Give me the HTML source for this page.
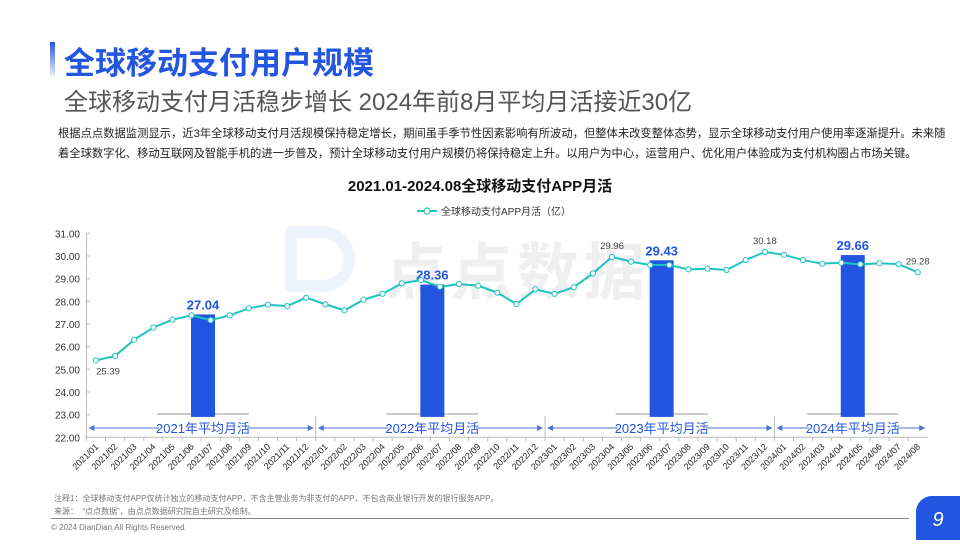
<!DOCTYPE html>
<html><head><meta charset="utf-8">
<style>
body{margin:0;width:960px;height:540px;overflow:hidden;background:#fff;font-family:"Liberation Sans","Noto Sans CJK SC",sans-serif;position:relative}
.abs{position:absolute;white-space:nowrap}
</style></head><body>
<div class="abs" style="left:50px;top:42px;width:5px;height:34px;background:linear-gradient(#2356e0,#e8eefc)"></div>
<div class="abs" style="left:64px;top:38px;font-size:31px;font-weight:bold;color:#2356e0">全球移动支付用户规模</div>
<div class="abs" style="left:64px;top:82px;font-size:24px;color:#555">全球移动支付月活稳步增长 2024年前8月平均月活接近30亿</div>
<div class="abs" style="left:58px;top:124px;font-size:11.3px;line-height:20px;color:#222">根据点点数据监测显示，近3年全球移动支付月活规模保持稳定增长，期间虽手季节性因素影响有所波动，但整体未改变整体态势，显示全球移动支付用户使用率逐渐提升。未来随<br>着全球数字化、移动互联网及智能手机的进一步普及，预计全球移动支付用户规模仍将保持稳定上升。以用户为中心，运营用户、优化用户体验成为支付机构圈占市场关键。</div>
<div class="abs" style="left:385px;top:222px;font-size:62px;font-weight:bold;color:#efefef;letter-spacing:4px">点点数据</div>
<div class="abs" style="left:285px;top:226px;width:70px;height:66px;border-radius:8px 40px 40px 8px;border:12px solid #eef2fc;box-sizing:border-box"></div>
<svg id="chart" class="abs" style="left:0;top:0" width="960" height="540"></svg>
<div class="abs" style="left:54px;top:492px;font-size:8px;line-height:13px;color:#777">注释1：全球移动支付APP仅统计独立的移动支付APP，不含主营业务为非支付的APP，不包含商业银行开发的银行服务APP。<br>来源：&nbsp;&nbsp;“点点数据”，由点点数据研究院自主研究及绘制。</div>
<div class="abs" style="left:51px;top:518px;width:858px;height:1px;background:#888"></div>
<div class="abs" style="left:51px;top:523px;font-size:8px;color:#777">© 2024 DianDian.All Rights Reserved.</div>
<div class="abs" style="left:916px;top:496px;width:44px;height:44px;background:#2356e0;border-top-left-radius:16px;color:#fff;font-size:20px;font-style:italic;text-align:center;line-height:48px">9</div>
<script>
const months=[];for(let y=2021;y<=2024;y++)for(let m=1;m<=12;m++){if(y==2024&&m>8)break;months.push(y+'/'+String(m).padStart(2,'0'));}
const values=[25.39,25.59,26.31,26.84,27.19,27.38,27.17,27.38,27.69,27.85,27.79,28.16,27.87,27.6,28.07,28.33,28.79,28.94,28.64,28.76,28.69,28.38,27.88,28.53,28.33,28.62,29.23,29.96,29.75,29.6,29.6,29.41,29.44,29.38,29.82,30.18,30.05,29.82,29.66,29.7,29.63,29.68,29.64,29.28];
const years=['2021','2022','2023','2024'];
const yearAvg=[27.04,28.36,29.43,29.66];
const yearStart=[0,12,24,36];
const yearCount=[12,12,12,8];
const pointLabels={0:'25.39',27:'29.96',35:'30.18',43:'29.28'};
const yTicks=[22,23,24,25,26,27,28,29,30,31];
const svg=document.getElementById('chart');const NS='http://www.w3.org/2000/svg';
const x0=96,dx=19.11,yTop=233.3,yBot=437.3,yMin=22,yMax=31;
const X=i=>x0+i*dx, Y=v=>yBot-(v-yMin)/(yMax-yMin)*(yBot-yTop);
function el(t,a,txt){const e=document.createElementNS(NS,t);for(const k in a)e.setAttribute(k,a[k]);if(txt!=null)e.textContent=txt;svg.appendChild(e);return e;}
let e;
e=el('text',{x:480,y:191,'text-anchor':'middle','font-size':15,'font-weight':'bold',fill:'#111'},'2021.01-2024.08全球移动支付APP月活');

e=el('line',{x1:417,y1:211,x2:437,y2:211,stroke:'#1fc4c0','stroke-width':2});

e=el('circle',{cx:427,cy:211,r:3,fill:'#fff',stroke:'#1fc4c0','stroke-width':1.2});

e=el('text',{x:441,y:215,'font-size':10,fill:'#333'},'全球移动支付APP月活（亿）');

// axes
e=el('line',{x1:86.5,y1:yTop,x2:86.5,y2:yBot,stroke:'#bbb'});

yTicks.forEach(v=>{e=el('text',{x:80,y:Y(v)+4,'text-anchor':'end','font-size':10,fill:'#333'},v.toFixed(2));

el('line',{x1:86,y1:Y(v),x2:90,y2:Y(v),stroke:'#bbb'});});
e=el('line',{x1:86,y1:yBot,x2:X(months.length-1)+10,y2:yBot,stroke:'#bbb'});

months.forEach((m,i)=>{el('line',{x1:X(i)-dx/2,y1:yBot,x2:X(i)-dx/2,y2:yBot+4,stroke:'#bbb'});
e=el('text',{x:X(i)+3,y:yBot+10,'text-anchor':'end','font-size':9,fill:'#222',transform:`rotate(-45 ${X(i)+3} ${yBot+10})`},m);
});
// bars & brackets
years.forEach((yr,k)=>{const s=yearStart[k],n=yearCount[k];const c=X(s+(n-1)/2+0.1);
el('line',{x1:c-46,y1:414,x2:c+46,y2:414,stroke:'#ccc','stroke-width':2});
e=el('rect',{x:c-12,y:Y(yearAvg[k]+0.38),width:24,height:yBot-1-Y(yearAvg[k]+0.38)-22,fill:'#2356e0'});
e.setAttribute('height',Y(22.9)-Y(yearAvg[k]+0.38));

e=el('text',{x:c,y:Y(yearAvg[k]+0.38)-5,'text-anchor':'middle','font-size':13,'font-weight':'bold',fill:'#2356e0'},yearAvg[k].toFixed(2));

const l=X(s)-dx/2,r=X(s+n-1)+dx/2;
if(k>0)el('line',{x1:l,y1:416,x2:l,y2:437,stroke:'#bbb'});
el('line',{x1:l+4,y1:428,x2:c-44,y2:428,stroke:'#4a74d0'});el('line',{x1:c+44,y1:428,x2:r-4,y2:428,stroke:'#4a74d0'});
el('path',{d:`M${l+2} 428 l6 -3 v6z M${r-2} 428 l-6 -3 v6z`,fill:'#4a74d0'});
e=el('text',{x:c,y:433,'text-anchor':'middle','font-size':13,fill:'#2356e0'},yr+'年平均月活');
});
// line
e=el('polyline',{points:values.map((v,i)=>X(i)+','+Y(v)).join(' '),fill:'none',stroke:'#1fc4c0','stroke-width':2});

values.forEach((v,i)=>{e=el('circle',{cx:X(i),cy:Y(v),r:2.6,fill:'#fff',stroke:'#1fc4c0','stroke-width':1});

if(pointLabels[i]){const below=i==0;e=el('text',{x:X(i)+(below?12:0),y:below?Y(v)+14:Y(v)-8,'text-anchor':'middle','font-size':9.5,fill:'#444'},pointLabels[i]);
}});
</script>
</body></html>
